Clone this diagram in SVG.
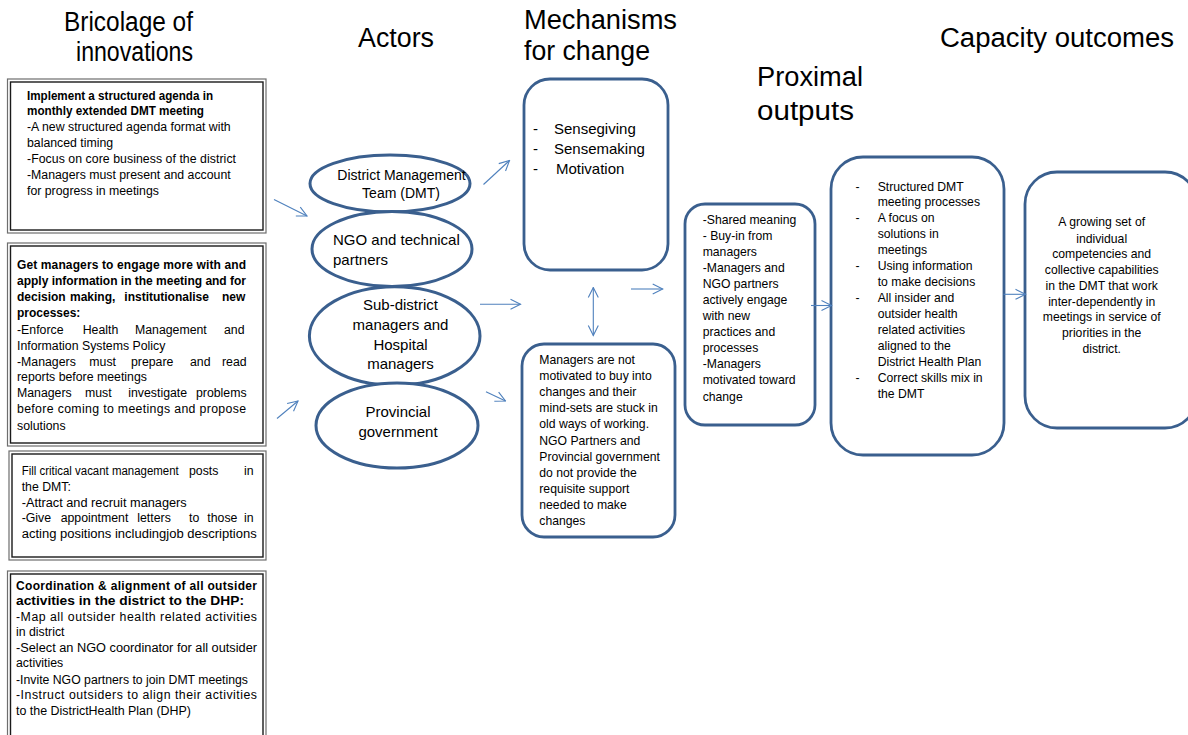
<svg xmlns="http://www.w3.org/2000/svg" width="1188" height="735" viewBox="0 0 1188 735">
<style>
text{font-family:"Liberation Sans",Arial,sans-serif;fill:#000}
.h{font-size:27px}
.b{font-size:12.3px}
.bb{font-size:12px;font-weight:bold}
.m{font-size:12.2px}
.e{font-size:15px}
.bo{fill:none;stroke:#6e6e6e;stroke-width:1.2}
.bi{fill:#fff;stroke:#1a1a1a;stroke-width:1.4}
.rb{fill:#fff;stroke:#3A5F8E;stroke-width:2.8}
.el{fill:#fff;stroke:#3A5F8E;stroke-width:3}
.ar{fill:none;stroke:#4F81BD;stroke-width:1.1;marker-end:url(#ah)}
</style>
<defs>
<marker id="ah" viewBox="0 0 12 12" refX="11" refY="6" markerWidth="12" markerHeight="12" markerUnits="userSpaceOnUse" orient="auto-start-reverse">
<path d="M1,1 L11,6 L1,11" fill="none" stroke="#4F81BD" stroke-width="1.1"/>
</marker>
</defs>
<rect width="1188" height="735" fill="#fff"/>

<g id="headers">
<text class="h" x="64" y="31" textLength="129" lengthAdjust="spacingAndGlyphs">Bricolage of</text>
<text class="h" x="76" y="61" textLength="117" lengthAdjust="spacingAndGlyphs">innovations</text>
<text class="h" x="358" y="47" textLength="76" lengthAdjust="spacingAndGlyphs">Actors</text>
<text class="h" x="524" y="29" textLength="153" lengthAdjust="spacingAndGlyphs">Mechanisms</text>
<text class="h" x="524" y="60" textLength="126" lengthAdjust="spacingAndGlyphs">for change</text>
<text class="h" x="757" y="86" textLength="106" lengthAdjust="spacingAndGlyphs">Proximal</text>
<text class="h" x="757" y="120" textLength="97" lengthAdjust="spacingAndGlyphs">outputs</text>
<text class="h" x="940" y="47" textLength="234" lengthAdjust="spacingAndGlyphs">Capacity outcomes</text>
</g>

<g id="box1">
<rect class="bo" x="7.5" y="79" width="258.5" height="154"/>
<rect class="bi" x="10.5" y="82" width="252.5" height="148"/>
<text class="bb" x="27" y="99.5" textLength="186" lengthAdjust="spacingAndGlyphs">Implement a structured agenda in</text>
<text class="bb" x="27" y="115" textLength="177" lengthAdjust="spacingAndGlyphs">monthly extended DMT meeting</text>
<text class="b" x="27" y="131">-A new structured agenda format with</text>
<text class="b" x="27" y="147">balanced timing</text>
<text class="b" x="27" y="163" textLength="209">-Focus on core business of the district</text>
<text class="b" x="27" y="178.5">-Managers must present and account</text>
<text class="b" x="27" y="194.5">for progress in meetings</text>
</g>

<g id="box2">
<rect class="bo" x="7.5" y="243" width="258.5" height="203"/>
<rect class="bi" x="10.5" y="246" width="252.5" height="197"/>
<text class="bb" x="17" y="268.5" textLength="229" lengthAdjust="spacing">Get managers to engage more with and</text>
<text class="bb" x="17" y="285" textLength="229" lengthAdjust="spacing">apply information in the meeting and for</text>
<text class="bb" y="301"><tspan x="17">decision</tspan><tspan x="70">making,</tspan><tspan x="124.3">institutionalise</tspan><tspan x="222">new</tspan></text>
<text class="bb" x="17" y="317">processes:</text>
<text class="b" y="333.5"><tspan x="17">-Enforce</tspan><tspan x="82.7">Health</tspan><tspan x="135">Management</tspan><tspan x="224">and</tspan></text>
<text class="b" x="17" y="349.5">Information Systems Policy</text>
<text class="b" y="365.5"><tspan x="17">-Managers</tspan><tspan x="89.3">must</tspan><tspan x="131">prepare</tspan><tspan x="190">and</tspan><tspan x="222">read</tspan></text>
<text class="b" x="17" y="381">reports before meetings</text>
<text class="b" y="397"><tspan x="17">Managers</tspan><tspan x="85">must</tspan><tspan x="128.3">investigate</tspan><tspan x="196">problems</tspan></text>
<text class="b" x="17" y="413" textLength="229" lengthAdjust="spacing">before coming to meetings and propose</text>
<text class="b" x="17" y="429.5">solutions</text>
</g>

<g id="box3">
<rect class="bo" x="9" y="451" width="257" height="109"/>
<rect class="bi" x="12" y="454" width="251" height="103"/>
<text class="b" x="21.7" y="474.5" textLength="157" lengthAdjust="spacingAndGlyphs">Fill critical vacant management</text>
<text class="b" x="189" y="474.5">posts</text>
<text class="b" x="244" y="474.5">in</text>
<text class="b" x="21.7" y="491">the DMT:</text>
<text class="b" x="21.7" y="506.5" textLength="165" lengthAdjust="spacingAndGlyphs">-Attract and recruit managers</text>
<text class="b" y="522"><tspan x="21.7">-Give</tspan><tspan x="60.7">appointment</tspan><tspan x="137.3">letters</tspan><tspan x="189">to</tspan><tspan x="207.3">those</tspan><tspan x="244">in</tspan></text>
<text class="b" x="21.7" y="537.5" textLength="235" lengthAdjust="spacingAndGlyphs">acting positions includingjob descriptions</text>
</g>

<g id="box4">
<rect class="bo" x="7.5" y="571" width="258.5" height="180"/>
<rect class="bi" x="10.5" y="574" width="252.5" height="174"/>
<text class="bb" x="16" y="589.5" textLength="241" lengthAdjust="spacing">Coordination &amp; alignment of all outsider</text>
<text class="bb" x="16" y="605" textLength="228" lengthAdjust="spacingAndGlyphs">activities in the district to the DHP:</text>
<text class="b" x="16" y="620.5" textLength="241" lengthAdjust="spacing">-Map all outsider health related activities</text>
<text class="b" x="16" y="636">in district</text>
<text class="b" x="16" y="652" textLength="241" lengthAdjust="spacingAndGlyphs">-Select an NGO coordinator for all outsider</text>
<text class="b" x="16" y="667">activities</text>
<text class="b" x="16" y="683.5" textLength="232" lengthAdjust="spacingAndGlyphs">-Invite NGO partners to join DMT meetings</text>
<text class="b" x="16" y="699" textLength="241" lengthAdjust="spacing">-Instruct outsiders to align their activities</text>
<text class="b" x="16" y="715" textLength="175" lengthAdjust="spacingAndGlyphs">to the DistrictHealth Plan (DHP)</text>
</g>

<g id="actor-dmt">
<ellipse class="el" cx="390" cy="183.5" rx="80" ry="28.5"/>
<text x="401.5" y="180" font-size="14" text-anchor="middle">District Management</text>
<text x="401" y="197.5" font-size="14" text-anchor="middle">Team (DMT)</text>
</g>
<g id="actor-ngo">
<ellipse class="el" cx="392" cy="249" rx="80" ry="37.5"/>
<text class="e" x="333" y="244.5">NGO and technical</text>
<text class="e" x="333" y="264.5">partners</text>
</g>
<g id="actor-subdistrict">
<ellipse class="el" cx="394.7" cy="336" rx="85.3" ry="49.3"/>
<text class="e" x="400.5" y="309.5" text-anchor="middle">Sub-district</text>
<text class="e" x="400.5" y="329.5" text-anchor="middle">managers and</text>
<text class="e" x="400.5" y="349.5" text-anchor="middle">Hospital</text>
<text class="e" x="400.5" y="369" text-anchor="middle">managers</text>
</g>
<g id="actor-provincial">
<ellipse class="el" cx="397" cy="425.5" rx="81" ry="42.5"/>
<text class="e" x="398" y="417" text-anchor="middle">Provincial</text>
<text class="e" x="398" y="437" text-anchor="middle">government</text>
</g>

<g id="mech-positive">
<rect class="rb" x="524" y="79" width="144" height="191" rx="26"/>
<text class="e" x="533" y="133.5">-</text>
<text class="e" x="554" y="133.5">Sensegiving</text>
<text class="e" x="533" y="153.5">-</text>
<text class="e" x="554" y="153.5">Sensemaking</text>
<text class="e" x="533" y="173.5">-</text>
<text class="e" x="556" y="173.5">Motivation</text>
</g>

<g id="mech-negative">
<rect class="rb" x="522" y="344" width="153" height="193" rx="22"/>
<text class="m" x="539.3" y="364">Managers are not</text>
<text class="m" x="539.3" y="380">motivated to buy into</text>
<text class="m" x="539.3" y="396.3">changes and their</text>
<text class="m" x="539.3" y="412.3">mind-sets are stuck in</text>
<text class="m" x="539.3" y="428.3">old ways of working.</text>
<text class="m" x="539.3" y="444.7">NGO Partners and</text>
<text class="m" x="539.3" y="460.7">Provincial government</text>
<text class="m" x="539.3" y="476.7">do not provide the</text>
<text class="m" x="539.3" y="493.3">requisite support</text>
<text class="m" x="539.3" y="509">needed to make</text>
<text class="m" x="539.3" y="524.7">changes</text>
</g>

<g id="proximal">
<rect class="rb" x="685" y="204" width="130" height="221" rx="20"/>
<text class="m" x="702.7" y="224">-Shared meaning</text>
<text class="m" x="702.7" y="239.7">- Buy-in from</text>
<text class="m" x="702.7" y="255.7">managers</text>
<text class="m" x="702.7" y="271.7">-Managers and</text>
<text class="m" x="702.7" y="288">NGO partners</text>
<text class="m" x="702.7" y="304">actively engage</text>
<text class="m" x="702.7" y="320">with new</text>
<text class="m" x="702.7" y="335.7">practices and</text>
<text class="m" x="702.7" y="351.7">processes</text>
<text class="m" x="702.7" y="368">-Managers</text>
<text class="m" x="702.7" y="384">motivated toward</text>
<text class="m" x="702.7" y="400.7">change</text>
</g>

<g id="outputs">
<rect class="rb" x="831" y="157" width="173" height="298" rx="32"/>
<text class="m" x="855.5" y="190.7">-</text>
<text class="m" x="877.7" y="190.7">Structured DMT</text>
<text class="m" x="877.7" y="206.3">meeting processes</text>
<text class="m" x="855.5" y="222.3">-</text>
<text class="m" x="877.7" y="222.3">A focus on</text>
<text class="m" x="877.7" y="238">solutions in</text>
<text class="m" x="877.7" y="254">meetings</text>
<text class="m" x="855.5" y="270">-</text>
<text class="m" x="877.7" y="270">Using information</text>
<text class="m" x="877.7" y="285.7">to make decisions</text>
<text class="m" x="855.5" y="301.7">-</text>
<text class="m" x="877.7" y="301.7">All insider and</text>
<text class="m" x="877.7" y="318">outsider health</text>
<text class="m" x="877.7" y="334">related activities</text>
<text class="m" x="877.7" y="350">aligned to the</text>
<text class="m" x="877.7" y="365.7">District Health Plan</text>
<text class="m" x="855.5" y="382.3">-</text>
<text class="m" x="877.7" y="382.3">Correct skills mix in</text>
<text class="m" x="877.7" y="398.3">the DMT</text>
</g>

<g id="capacity">
<rect class="rb" x="1025" y="172" width="172" height="256" rx="32"/>
<text class="m" x="1101.7" y="225.7" text-anchor="middle">A growing set of</text>
<text class="m" x="1101.7" y="243" text-anchor="middle">individual</text>
<text class="m" x="1101.7" y="258.3" text-anchor="middle">competencies and</text>
<text class="m" x="1101.7" y="274" text-anchor="middle">collective capabilities</text>
<text class="m" x="1101.7" y="290" text-anchor="middle">in the DMT that work</text>
<text class="m" x="1101.7" y="305.7" text-anchor="middle">inter-dependently in</text>
<text class="m" x="1101.7" y="321.3" text-anchor="middle">meetings in service of</text>
<text class="m" x="1101.7" y="337.3" text-anchor="middle">priorities in the</text>
<text class="m" x="1101.7" y="353" text-anchor="middle">district.</text>
</g>

<g id="connectors">
<line class="ar" x1="274" y1="199.5" x2="307" y2="216"/>
<line class="ar" x1="277" y1="418.5" x2="298" y2="401"/>
<line class="ar" x1="483.5" y1="184.5" x2="509.5" y2="160.5"/>
<line class="ar" x1="480" y1="304.3" x2="520.5" y2="304.3"/>
<line class="ar" x1="486" y1="391.7" x2="505.5" y2="401"/>
<line class="ar" x1="593.3" y1="335.5" x2="593.3" y2="287.5" style="marker-start:url(#ah)"/>
<line class="ar" x1="631" y1="289" x2="662.7" y2="289"/>
<line class="ar" x1="811" y1="305.5" x2="831.5" y2="305.5"/>
<line class="ar" x1="1003.5" y1="294.3" x2="1025.5" y2="294.3"/>
</g>
</svg>
